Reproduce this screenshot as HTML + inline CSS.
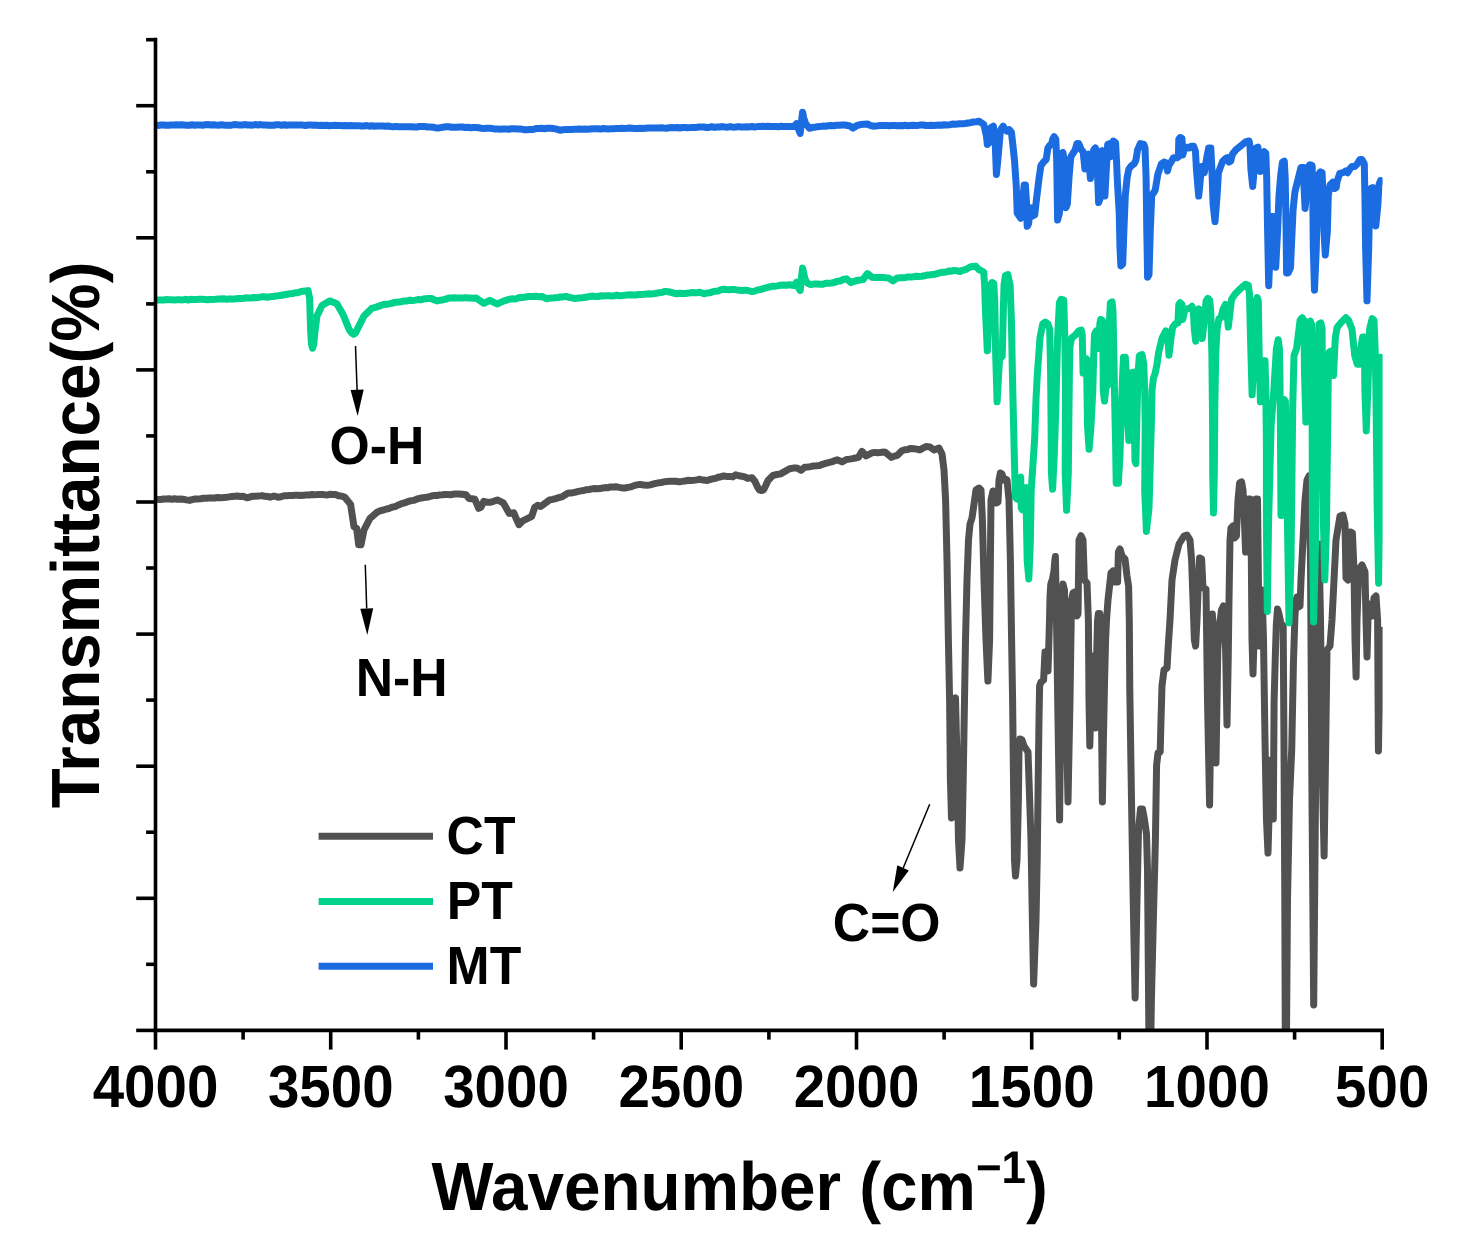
<!DOCTYPE html>
<html lang="en"><head><meta charset="utf-8"><title>FTIR</title>
<style>
html,body{margin:0;padding:0;background:#fff;}
svg{display:block;}
text{font-family:"Liberation Sans",sans-serif;font-weight:bold;fill:#000;text-rendering:geometricPrecision;}
</style></head>
<body>
<svg width="1470" height="1251" viewBox="0 0 1470 1251">
<rect x="0" y="0" width="1470" height="1251" fill="#ffffff"/>
<defs><clipPath id="plot"><rect x="155.5" y="30" width="1227.1" height="1000.4"/></clipPath><mask id="m" maskUnits="userSpaceOnUse" x="0" y="0" width="1470" height="1251"><rect x="0" y="0" width="1470" height="1251" fill="#fff"/></mask></defs>
<g clip-path="url(#plot)" fill="none" stroke-linejoin="round" stroke-linecap="round" stroke-width="7">
<path stroke="#515151" d="M155.5,499.2 L158.2,499.4 L160.9,499.5 L163.7,499.0 L166.4,499.0 L169.1,498.7 L171.8,499.3 L174.6,498.8 L177.3,499.3 L180.0,499.0 L183.2,499.3 L186.3,499.9 L189.5,500.4 L192.2,499.6 L195.0,499.0 L197.9,499.0 L200.7,498.8 L203.6,498.3 L206.4,498.2 L209.3,498.0 L212.1,498.0 L215.0,498.0 L217.8,497.4 L220.7,497.7 L223.5,497.6 L226.3,497.3 L229.2,496.9 L232.0,496.4 L234.8,496.2 L237.5,496.1 L240.2,496.4 L243.0,496.2 L247.0,497.8 L252.0,496.3 L255.3,496.2 L258.7,496.1 L262.0,495.6 L264.7,496.3 L267.3,496.4 L270.0,497.2 L274.0,496.0 L278.0,497.2 L281.0,496.8 L284.0,495.8 L286.8,495.7 L289.6,495.5 L292.4,495.5 L295.2,495.3 L298.0,495.2 L300.7,495.5 L303.5,495.2 L306.3,495.1 L309.1,495.1 L311.9,494.5 L314.7,494.7 L317.3,494.6 L319.9,494.4 L322.5,494.6 L325.1,494.8 L327.8,494.9 L330.4,494.2 L333.0,494.6 L335.6,494.5 L338.6,495.7 L341.6,496.1 L344.6,497.0 L350.6,504.4 L354.0,526.8 L356.6,528.3 L358.7,544.8 L361.0,544.8 L364.0,529.8 L370.0,518.4 L377.5,511.9 L380.5,510.7 L383.5,510.0 L386.5,509.0 L389.5,508.3 L392.5,507.1 L395.5,506.5 L398.5,504.9 L401.5,503.7 L404.5,502.9 L407.5,501.7 L410.5,500.8 L413.5,500.4 L416.5,499.2 L419.5,498.4 L422.5,497.8 L425.5,497.4 L428.4,497.0 L431.4,496.0 L434.4,495.4 L437.1,495.5 L439.7,494.9 L442.4,494.8 L445.1,494.5 L447.7,494.6 L450.4,494.7 L453.1,494.3 L455.7,493.9 L458.4,493.9 L462.2,494.2 L466.0,494.8 L468.9,498.4 L471.9,498.7 L474.9,499.3 L478.7,508.3 L480.8,507.4 L483.8,501.4 L486.8,502.2 L489.8,502.3 L493.6,501.3 L497.3,499.9 L503.3,502.9 L509.3,513.4 L513.8,512.8 L515.9,517.8 L518.9,524.7 L522.8,520.8 L531.7,516.3 L534.7,507.4 L537.7,505.3 L540.7,506.5 L549.7,499.9 L552.7,499.4 L555.7,498.6 L558.7,497.7 L561.7,496.9 L567.7,493.3 L570.4,492.9 L573.0,492.7 L575.7,492.1 L578.3,491.4 L581.0,490.9 L583.8,490.5 L586.5,489.7 L589.2,489.5 L592.0,488.9 L594.7,488.5 L597.3,488.7 L600.0,488.6 L602.7,488.0 L605.3,487.6 L608.0,487.8 L610.7,486.9 L613.3,486.9 L616.0,486.8 L619.0,487.4 L622.0,487.9 L625.0,488.0 L628.0,487.4 L631.0,486.9 L634.0,485.6 L637.0,484.9 L640.0,484.4 L643.7,485.0 L647.4,485.3 L650.2,484.9 L652.9,484.1 L655.7,483.4 L658.5,482.8 L661.3,482.5 L664.0,481.9 L666.8,481.4 L669.8,481.3 L672.8,481.3 L675.8,481.2 L678.8,481.7 L681.8,481.4 L684.8,481.0 L687.8,480.3 L690.8,480.6 L693.8,480.3 L696.8,479.9 L699.8,479.3 L703.5,480.1 L707.2,480.5 L710.0,479.5 L712.7,478.8 L715.5,478.4 L718.2,477.2 L721.0,476.7 L723.7,476.0 L726.7,476.4 L729.7,476.4 L732.7,476.9 L735.7,474.8 L738.7,475.8 L741.7,476.2 L744.7,476.9 L747.7,478.4 L752.0,477.8 L755.0,481.5 L757.5,487.0 L759.5,490.0 L761.5,490.6 L763.5,490.0 L765.5,486.0 L768.0,480.5 L773.0,475.4 L776.8,474.5 L780.6,473.9 L789.6,468.8 L793.3,468.1 L797.0,467.9 L801.0,470.3 L804.5,467.3 L807.5,467.0 L810.5,466.6 L813.5,465.9 L816.5,465.8 L819.5,465.5 L822.5,464.3 L825.5,463.4 L828.5,462.6 L831.5,461.9 L834.5,460.7 L837.5,459.8 L842.0,461.9 L846.5,459.5 L849.5,459.1 L852.5,458.6 L855.4,458.0 L858.4,457.4 L862.0,451.4 L866.0,455.9 L872.0,452.9 L874.7,452.4 L877.4,452.8 L880.0,452.5 L882.7,452.1 L885.4,452.3 L891.4,457.4 L894.4,456.1 L897.4,455.3 L901.9,450.8 L904.9,449.7 L907.8,449.4 L910.8,448.4 L913.8,448.7 L916.8,449.1 L919.8,449.9 L926.0,446.5 L930.0,447.0 L934.0,450.0 L939.0,448.0 L942.0,454.0 L944.0,470.0 L945.6,500.0 L947.0,560.0 L948.4,640.0 L949.6,700.0 L950.4,780.0 L951.5,818.0 L953.0,770.0 L954.5,700.0 L955.5,698.0 L957.0,760.0 L958.5,840.0 L960.0,868.0 L962.0,840.0 L963.2,780.0 L964.5,700.0 L965.5,640.0 L967.0,580.0 L968.5,540.0 L970.0,524.0 L972.0,518.0 L974.0,504.0 L976.0,490.0 L979.0,488.0 L981.0,490.0 L982.4,520.0 L984.0,580.0 L986.0,640.0 L987.9,681.0 L989.6,640.0 L990.4,560.0 L991.0,500.0 L993.0,491.0 L995.0,492.0 L996.0,503.0 L998.0,502.0 L999.0,480.0 L1000.4,473.0 L1002.0,474.0 L1003.6,480.0 L1005.0,479.0 L1007.0,480.0 L1009.0,500.0 L1010.4,560.0 L1011.6,640.0 L1012.6,700.0 L1013.5,780.0 L1014.5,860.0 L1015.5,876.0 L1017.0,860.0 L1018.4,800.0 L1019.0,750.0 L1020.0,739.0 L1022.0,740.0 L1024.0,746.0 L1026.0,749.0 L1028.0,752.0 L1029.0,780.0 L1031.0,840.0 L1032.0,900.0 L1033.6,984.0 L1036.0,920.0 L1037.2,860.0 L1038.2,780.0 L1039.0,720.0 L1039.6,686.0 L1041.0,682.0 L1043.6,680.0 L1045.0,652.0 L1046.4,654.0 L1048.0,671.0 L1048.8,645.0 L1049.5,620.0 L1050.0,597.0 L1050.8,584.0 L1052.6,578.5 L1054.0,571.0 L1054.8,561.0 L1055.4,556.5 L1056.5,620.0 L1058.0,720.0 L1059.6,820.0 L1060.8,700.0 L1062.0,620.0 L1063.0,584.0 L1064.5,590.0 L1066.0,700.0 L1068.0,802.0 L1070.0,700.0 L1071.5,600.0 L1073.0,593.0 L1075.0,592.0 L1077.0,616.0 L1078.0,614.0 L1079.0,540.0 L1081.0,535.6 L1083.0,540.0 L1084.4,580.0 L1087.0,583.0 L1088.4,620.0 L1089.0,700.0 L1089.8,746.0 L1091.0,700.0 L1092.2,666.0 L1093.0,656.0 L1094.0,668.0 L1094.8,705.0 L1095.3,728.0 L1095.9,700.0 L1096.8,650.0 L1097.5,621.0 L1098.4,613.5 L1099.7,613.5 L1100.7,621.0 L1101.3,700.0 L1102.4,802.0 L1103.4,740.0 L1104.6,680.0 L1105.6,640.0 L1106.5,620.0 L1108.0,600.0 L1111.0,573.0 L1113.0,571.0 L1115.0,582.0 L1117.6,582.0 L1118.4,552.0 L1120.0,549.0 L1122.0,556.0 L1125.0,559.0 L1127.0,576.0 L1128.6,586.0 L1129.3,620.0 L1129.8,690.0 L1131.5,800.0 L1133.2,900.0 L1135.1,998.0 L1137.0,900.0 L1138.5,830.0 L1140.5,809.0 L1142.5,809.0 L1144.5,820.0 L1146.5,834.0 L1147.5,870.0 L1148.6,1000.0 L1149.2,1075.0 L1150.2,1075.0 L1151.4,1000.0 L1153.6,910.0 L1155.4,840.0 L1156.6,765.0 L1158.0,753.0 L1160.2,752.0 L1161.0,720.0 L1162.0,686.0 L1164.0,670.0 L1167.0,668.0 L1168.0,650.0 L1170.0,620.0 L1172.0,580.0 L1175.0,560.0 L1179.0,544.0 L1184.0,536.0 L1187.0,535.0 L1190.0,540.0 L1191.6,560.0 L1193.0,600.0 L1194.4,640.0 L1195.6,646.0 L1197.0,620.0 L1198.4,580.0 L1199.6,558.0 L1201.6,559.0 L1203.0,588.0 L1206.0,589.0 L1207.5,700.0 L1209.6,805.0 L1211.0,700.0 L1212.3,614.0 L1214.0,640.0 L1215.2,700.0 L1216.0,763.0 L1217.0,700.0 L1217.8,650.0 L1219.5,625.0 L1221.5,610.0 L1223.4,606.0 L1224.8,612.0 L1225.8,660.0 L1227.0,725.0 L1228.2,660.0 L1229.0,600.0 L1230.0,540.0 L1231.0,528.0 L1233.0,526.0 L1234.4,538.0 L1236.4,536.0 L1238.0,500.0 L1239.6,483.0 L1241.6,482.0 L1243.0,490.0 L1244.4,520.0 L1245.6,552.0 L1247.0,552.0 L1247.6,520.0 L1248.4,499.0 L1250.0,499.0 L1251.0,520.0 L1252.0,640.0 L1253.0,674.0 L1254.0,640.0 L1255.0,540.0 L1256.0,499.0 L1257.5,499.0 L1258.2,560.0 L1259.1,646.0 L1260.5,600.0 L1262.0,590.0 L1263.5,640.0 L1265.0,740.0 L1266.5,820.0 L1268.0,853.0 L1269.5,800.0 L1271.0,760.0 L1272.3,790.0 L1273.3,819.0 L1273.7,760.0 L1274.1,702.0 L1275.2,660.0 L1276.3,625.0 L1277.5,609.0 L1279.0,614.0 L1280.8,623.0 L1283.2,626.0 L1284.0,750.0 L1284.8,900.0 L1285.4,1075.0 L1286.2,1075.0 L1287.5,900.0 L1289.5,800.0 L1291.7,750.0 L1293.5,660.0 L1295.0,615.0 L1296.0,600.0 L1297.0,597.0 L1298.4,607.0 L1300.0,606.0 L1301.0,580.0 L1303.0,540.0 L1305.0,500.0 L1307.0,480.0 L1309.0,476.0 L1310.5,560.0 L1312.0,800.0 L1313.7,1005.0 L1315.5,800.0 L1317.0,600.0 L1319.0,544.0 L1320.5,620.0 L1322.5,780.0 L1324.1,856.0 L1325.5,760.0 L1327.0,650.0 L1330.0,646.0 L1332.0,620.0 L1334.0,580.0 L1336.0,540.0 L1340.0,516.0 L1343.0,515.0 L1345.0,524.0 L1346.0,578.0 L1348.0,580.0 L1349.0,540.0 L1350.4,532.0 L1352.4,533.0 L1354.0,570.0 L1355.0,640.0 L1356.1,677.0 L1357.0,620.0 L1358.4,580.0 L1360.0,568.0 L1362.0,565.0 L1365.0,572.0 L1366.0,620.0 L1367.0,657.0 L1368.0,620.0 L1369.0,604.0 L1371.0,606.0 L1372.0,616.0 L1374.0,598.0 L1376.0,596.0 L1377.6,620.0 L1378.4,751.0 L1380.0,690.0 L1381.0,630.0"/>
<path stroke="#00d18b" d="M155.5,299.9 L158.2,299.9 L160.9,300.1 L163.7,300.1 L166.4,299.5 L169.1,299.7 L171.8,299.7 L174.6,299.9 L177.3,299.8 L180.0,299.8 L182.8,299.9 L185.5,299.3 L188.2,300.0 L190.9,299.3 L193.7,299.4 L196.4,299.6 L199.1,299.3 L201.8,299.3 L204.6,299.4 L207.3,299.8 L210.0,299.5 L212.7,299.4 L215.5,299.3 L218.2,299.1 L220.9,298.9 L223.6,298.8 L226.4,299.3 L229.1,299.0 L231.8,298.9 L234.5,299.0 L237.3,298.6 L240.0,298.5 L242.7,298.6 L245.5,297.8 L248.2,297.9 L250.9,298.1 L253.6,297.5 L256.4,297.8 L259.1,297.4 L261.8,296.8 L264.5,296.7 L267.3,297.2 L270.0,296.7 L272.9,296.6 L275.7,296.0 L278.6,295.7 L281.4,295.3 L284.3,294.7 L287.1,294.2 L290.0,293.8 L292.6,293.6 L295.2,292.7 L297.8,292.7 L300.4,291.7 L303.0,291.3 L308.0,290.6 L309.6,298.0 L310.6,330.0 L311.4,344.0 L312.6,348.2 L313.8,344.0 L314.9,332.0 L317.0,315.9 L322.0,305.4 L329.6,300.9 L333.3,302.2 L337.0,303.9 L343.0,314.4 L349.0,329.3 L351.6,333.0 L353.6,334.2 L355.6,333.0 L358.0,327.8 L364.0,315.9 L371.6,308.4 L374.6,307.7 L377.6,306.6 L380.5,305.6 L383.5,304.5 L386.1,304.2 L388.8,303.9 L391.4,303.4 L394.0,302.6 L396.6,302.3 L399.2,302.1 L401.9,301.5 L404.5,300.9 L407.2,300.9 L409.9,300.2 L412.6,300.5 L415.3,300.1 L417.9,299.6 L420.6,299.8 L423.3,299.1 L426.0,298.8 L428.7,298.6 L431.4,298.5 L434.4,300.0 L437.4,300.9 L440.4,300.2 L443.4,299.7 L446.4,299.0 L449.4,297.9 L452.1,298.1 L454.7,297.8 L457.4,298.0 L460.0,298.1 L462.7,298.1 L465.4,297.6 L468.0,298.0 L470.7,298.0 L473.3,298.3 L476.0,297.9 L483.8,303.3 L489.8,300.3 L497.0,303.9 L500.0,302.7 L503.0,301.3 L506.0,300.3 L509.0,299.4 L511.6,298.8 L514.2,299.0 L516.9,298.6 L519.5,297.6 L522.1,297.4 L524.8,297.3 L527.4,296.6 L530.0,296.4 L533.0,296.6 L536.0,296.3 L539.0,296.7 L542.0,296.4 L546.7,298.8 L549.5,298.2 L552.2,298.1 L555.0,297.7 L557.7,297.5 L560.5,297.0 L563.2,296.9 L566.0,296.4 L569.0,297.3 L572.0,297.9 L575.0,298.5 L578.0,298.1 L581.0,297.9 L584.0,297.5 L587.0,297.0 L590.0,296.4 L592.7,296.1 L595.4,296.5 L598.1,296.5 L600.8,295.8 L603.5,296.0 L606.2,295.8 L608.8,295.7 L611.5,296.0 L614.2,295.8 L616.9,295.3 L619.6,295.8 L622.3,295.6 L625.0,295.3 L627.7,294.9 L630.5,294.8 L633.2,295.1 L635.9,295.0 L638.6,294.5 L641.4,294.4 L644.1,294.3 L646.8,294.0 L649.5,293.7 L652.3,293.9 L655.0,293.5 L658.3,292.8 L661.7,292.5 L665.0,291.4 L668.0,291.8 L671.0,292.3 L674.0,293.2 L677.0,293.8 L679.9,293.3 L682.8,293.6 L685.6,293.4 L688.5,293.1 L691.4,292.6 L694.2,292.8 L697.1,292.7 L700.0,292.3 L704.0,293.8 L706.8,293.0 L709.6,292.8 L712.4,291.9 L715.3,291.2 L718.1,290.9 L720.9,289.8 L723.7,289.3 L726.4,289.6 L729.0,289.8 L731.7,289.6 L734.4,289.5 L737.0,289.9 L739.7,290.2 L742.4,290.5 L745.0,290.1 L747.7,290.5 L752.0,291.7 L754.8,291.1 L757.6,289.9 L760.4,289.6 L763.2,288.7 L766.0,287.9 L768.8,287.1 L771.6,286.3 L774.6,286.3 L777.6,285.9 L780.6,285.3 L783.6,285.0 L786.6,285.3 L789.6,284.8 L794.0,285.6 L796.6,282.2 L798.0,286.5 L799.2,289.0 L800.2,290.4 L801.4,278.0 L802.6,268.1 L803.8,274.0 L805.2,279.5 L807.5,283.3 L810.5,284.5 L813.7,284.1 L816.8,284.1 L820.0,284.3 L822.9,284.2 L825.8,283.2 L828.7,283.3 L831.6,283.0 L834.5,282.4 L837.2,281.4 L840.0,281.0 L843.2,279.5 L846.5,278.8 L851.0,282.6 L854.0,281.3 L857.0,280.5 L860.0,280.0 L863.0,279.6 L867.4,273.6 L872.0,277.3 L874.7,277.6 L877.5,277.4 L880.2,277.5 L882.9,277.6 L885.7,277.8 L888.4,277.9 L893.0,280.9 L897.4,277.9 L900.1,277.8 L902.8,277.7 L905.5,277.4 L908.2,276.9 L910.8,277.0 L913.5,276.8 L916.2,276.3 L918.9,276.4 L921.6,276.3 L924.3,275.8 L927.0,275.1 L929.8,274.9 L932.5,274.5 L935.2,274.2 L937.9,273.4 L940.7,272.6 L943.4,272.3 L946.1,272.0 L948.8,271.1 L951.6,271.2 L954.3,270.4 L957.1,270.8 L960.0,271.5 L962.6,270.3 L965.3,269.7 L970.6,266.7 L973.2,266.4 L975.8,266.2 L978.5,269.3 L983.7,272.0 L984.6,285.2 L985.5,311.6 L987.3,350.8 L989.0,320.3 L990.2,285.2 L992.0,282.5 L993.8,283.4 L994.8,302.8 L995.7,355.5 L997.1,401.8 L998.7,373.1 L999.6,359.0 L1002.2,356.4 L1003.1,320.3 L1004.0,285.2 L1005.4,275.5 L1007.8,274.6 L1010.1,285.2 L1011.4,320.3 L1012.4,373.1 L1013.6,425.9 L1014.5,464.0 L1015.4,497.4 L1017.2,499.1 L1018.4,478.0 L1020.7,477.2 L1021.2,507.9 L1022.4,509.7 L1023.7,488.6 L1025.9,487.7 L1026.5,525.5 L1027.2,560.7 L1028.8,578.9 L1030.3,543.1 L1031.2,490.3 L1033.0,464.0 L1034.7,437.6 L1036.0,399.5 L1037.4,373.1 L1040.0,337.9 L1042.7,323.9 L1045.3,322.1 L1047.9,323.9 L1049.7,329.1 L1050.6,373.1 L1051.1,425.9 L1051.4,472.8 L1052.6,489.2 L1054.3,455.2 L1055.8,408.3 L1057.6,337.9 L1059.4,302.8 L1061.1,299.2 L1063.8,300.1 L1064.8,337.9 L1065.5,390.7 L1065.2,472.8 L1066.6,510.3 L1068.3,472.8 L1069.0,408.3 L1069.4,373.1 L1069.9,346.7 L1071.7,337.9 L1075.2,335.3 L1078.7,330.9 L1081.3,330.0 L1082.2,334.4 L1082.7,355.5 L1083.1,373.1 L1084.5,371.3 L1085.6,359.9 L1086.6,359.0 L1087.0,390.7 L1087.5,425.9 L1089.1,449.3 L1091.0,425.9 L1092.8,390.7 L1093.7,355.5 L1094.5,334.4 L1096.3,330.9 L1097.5,334.4 L1098.9,348.5 L1099.8,323.9 L1100.7,319.5 L1102.4,320.3 L1103.0,355.5 L1103.3,390.7 L1104.5,401.0 L1106.0,387.2 L1107.7,385.4 L1108.6,355.5 L1109.5,320.3 L1110.4,302.8 L1112.1,301.9 L1113.0,311.6 L1113.9,355.5 L1114.8,408.3 L1115.6,443.4 L1116.2,483.3 L1118.3,483.3 L1120.0,455.2 L1121.4,408.3 L1122.7,373.1 L1123.5,357.3 L1125.3,357.3 L1126.2,373.1 L1127.1,408.3 L1128.8,440.5 L1130.2,408.3 L1130.9,373.1 L1133.2,372.2 L1134.1,408.3 L1135.0,461.0 L1135.9,463.7 L1136.7,425.9 L1138.0,373.1 L1139.4,355.5 L1142.0,354.6 L1143.8,364.3 L1144.7,390.7 L1145.2,425.9 L1144.7,490.3 L1146.4,531.4 L1149.0,507.9 L1150.5,455.2 L1151.3,425.9 L1152.0,390.7 L1153.4,378.4 L1155.2,373.1 L1157.0,364.3 L1158.7,352.0 L1162.2,337.9 L1165.8,330.9 L1167.5,332.7 L1169.0,355.2 L1171.0,337.9 L1172.6,327.4 L1175.3,323.9 L1177.9,323.0 L1178.8,304.5 L1180.2,302.8 L1182.0,304.5 L1182.7,319.5 L1184.9,309.8 L1187.6,308.9 L1190.2,308.0 L1192.0,306.3 L1193.2,309.8 L1194.3,329.1 L1195.7,341.2 L1197.8,316.8 L1199.0,308.9 L1200.2,320.3 L1202.2,338.5 L1204.3,320.3 L1206.1,301.0 L1207.8,298.4 L1209.6,300.1 L1210.8,311.6 L1211.9,355.5 L1212.6,425.9 L1212.7,472.8 L1213.5,512.9 L1214.3,472.8 L1214.8,408.3 L1215.7,355.5 L1217.1,329.1 L1218.9,318.6 L1221.0,317.7 L1222.8,309.8 L1225.4,304.5 L1226.6,308.0 L1228.3,327.1 L1230.1,311.6 L1231.6,299.2 L1235.1,294.0 L1240.3,288.7 L1245.6,284.3 L1248.3,285.2 L1249.5,294.0 L1250.5,337.9 L1252.1,394.8 L1254.1,355.5 L1255.3,302.8 L1257.1,297.5 L1258.3,301.0 L1259.2,355.5 L1260.4,401.8 L1261.8,373.1 L1262.9,360.8 L1265.0,360.8 L1265.8,390.7 L1266.4,443.4 L1266.4,525.5 L1267.3,611.4 L1268.5,525.5 L1271.1,425.9 L1273.8,390.7 L1276.4,348.5 L1278.2,339.7 L1279.4,348.5 L1279.9,373.1 L1280.4,425.9 L1281.0,515.6 L1282.5,443.4 L1284.0,399.5 L1285.4,401.2 L1286.1,443.4 L1287.5,525.5 L1289.0,622.8 L1291.0,560.7 L1292.7,408.3 L1294.0,355.5 L1296.6,348.5 L1300.1,320.3 L1302.2,317.7 L1304.0,320.3 L1304.5,373.1 L1305.9,422.1 L1307.7,373.1 L1308.6,322.1 L1310.3,321.2 L1311.6,323.9 L1312.1,408.3 L1312.4,525.5 L1313.6,622.0 L1315.6,543.1 L1317.7,355.5 L1319.1,323.9 L1320.9,323.0 L1322.1,329.1 L1322.6,408.3 L1323.5,525.5 L1324.8,579.8 L1326.5,525.5 L1328.3,373.1 L1329.2,352.0 L1330.9,351.1 L1333.5,375.5 L1335.3,337.9 L1337.1,327.4 L1341.5,322.1 L1345.9,317.7 L1348.5,320.3 L1352.0,329.1 L1354.7,355.5 L1357.3,364.3 L1359.6,364.3 L1360.8,348.5 L1362.6,337.1 L1364.3,337.1 L1364.9,390.7 L1366.3,430.9 L1368.4,373.1 L1369.6,329.1 L1372.2,318.6 L1374.0,320.3 L1375.4,355.5 L1376.1,408.3 L1377.2,507.9 L1378.6,583.3 L1380.2,507.9 L1381.0,357.3"/>
<path stroke="#1a6ce0" d="M155.5,125.0 L158.1,125.4 L160.7,125.1 L163.4,125.0 L166.0,125.3 L168.6,125.3 L171.2,125.1 L173.8,124.9 L176.4,124.8 L179.1,125.1 L181.7,124.8 L184.3,125.1 L186.9,125.3 L189.5,125.3 L192.1,124.8 L194.8,125.3 L197.4,124.9 L200.0,125.0 L202.6,125.2 L205.3,124.8 L207.9,124.6 L210.5,124.9 L213.2,124.8 L215.8,125.1 L218.4,125.2 L221.1,124.8 L223.7,125.1 L226.3,125.3 L228.9,125.2 L231.6,125.2 L234.2,124.6 L236.8,124.7 L239.5,125.1 L242.1,125.0 L244.7,124.6 L247.4,124.9 L250.0,124.9 L252.6,125.2 L255.3,124.6 L257.9,124.9 L260.5,124.6 L263.2,125.0 L265.8,124.9 L268.4,125.3 L271.1,125.2 L273.7,125.3 L276.3,124.8 L278.9,124.7 L281.6,125.3 L284.2,124.8 L286.8,125.3 L289.5,124.9 L292.1,125.0 L294.7,125.1 L297.4,125.0 L300.0,125.1 L302.7,125.1 L305.3,125.5 L308.0,125.0 L310.7,125.0 L313.3,125.3 L316.0,125.1 L318.7,125.5 L321.3,125.3 L324.0,125.6 L326.7,125.3 L329.3,125.8 L332.0,125.6 L334.7,125.2 L337.3,125.4 L340.0,125.6 L342.7,125.8 L345.3,125.6 L348.0,125.7 L350.7,125.5 L353.3,125.8 L356.0,125.8 L358.7,125.7 L361.3,126.0 L364.0,125.9 L366.7,125.6 L369.3,126.2 L372.0,125.8 L374.7,126.3 L377.3,126.0 L380.0,126.1 L382.6,125.9 L385.3,126.2 L387.9,125.9 L390.5,126.5 L393.2,126.7 L395.8,126.4 L398.4,126.8 L401.1,126.8 L403.7,126.7 L406.3,126.8 L408.9,126.7 L411.6,126.7 L414.2,127.0 L416.8,127.1 L419.5,126.4 L422.1,126.6 L424.7,126.6 L427.4,126.9 L430.0,127.0 L433.0,127.3 L436.0,127.9 L439.3,127.9 L442.7,127.3 L446.0,126.8 L448.8,126.8 L451.5,127.2 L454.2,127.3 L457.0,127.2 L459.8,127.0 L462.5,127.0 L465.2,127.5 L468.0,127.3 L470.7,127.8 L473.3,127.6 L476.0,127.5 L478.7,127.8 L481.3,128.2 L484.0,128.4 L486.7,128.2 L489.4,128.3 L492.1,128.4 L494.8,129.1 L497.5,128.9 L500.3,129.3 L503.1,129.0 L505.9,129.1 L508.6,129.2 L511.4,128.7 L514.2,128.8 L517.0,128.9 L520.3,128.9 L523.7,129.7 L527.0,129.8 L530.0,129.6 L533.0,129.5 L536.0,128.6 L539.0,128.4 L541.8,128.2 L544.6,128.7 L547.4,128.3 L550.2,128.3 L553.0,128.4 L556.5,129.1 L560.0,130.3 L562.9,129.7 L565.8,129.6 L568.6,129.6 L571.5,129.5 L574.1,129.3 L576.8,129.2 L579.4,129.1 L582.1,129.2 L584.7,129.1 L587.4,129.2 L590.0,128.9 L592.6,128.7 L595.3,128.7 L597.9,128.8 L600.5,129.1 L603.2,128.5 L605.8,128.7 L608.4,128.9 L611.1,128.7 L613.7,128.7 L616.3,128.6 L618.9,128.6 L621.6,128.2 L624.2,128.4 L626.8,128.3 L629.5,128.1 L632.1,128.2 L634.7,128.4 L637.4,128.4 L640.0,128.3 L642.7,128.5 L645.3,128.2 L648.0,127.9 L650.6,128.0 L653.3,128.1 L655.9,127.9 L658.6,128.0 L661.2,127.7 L663.9,128.0 L666.6,128.2 L669.2,127.7 L671.9,127.6 L674.5,127.8 L677.2,127.5 L679.8,128.0 L682.5,127.5 L685.1,127.5 L687.8,127.7 L690.4,127.6 L693.1,127.4 L695.8,127.5 L698.4,127.1 L701.1,126.9 L703.7,127.0 L706.4,127.5 L709.0,127.4 L711.7,126.7 L714.3,127.4 L717.0,127.0 L719.7,126.9 L722.4,126.6 L725.1,127.0 L727.8,127.2 L730.4,126.6 L733.1,127.2 L735.8,127.0 L738.5,126.6 L741.2,127.0 L743.9,127.1 L746.6,126.7 L749.2,126.9 L751.9,126.5 L754.6,127.0 L757.3,126.6 L760.0,126.6 L762.6,126.2 L765.3,126.5 L767.9,126.2 L770.5,126.5 L773.2,126.4 L775.8,126.5 L778.5,126.7 L781.1,126.3 L783.7,126.4 L786.4,126.4 L789.0,126.4 L794.0,126.6 L796.6,123.6 L798.0,127.5 L799.2,131.0 L800.2,133.4 L801.4,122.0 L802.6,112.3 L803.8,118.0 L805.5,123.5 L809.5,128.3 L812.0,127.6 L814.7,127.3 L817.3,126.7 L820.0,126.6 L822.8,126.1 L825.6,126.3 L828.3,125.8 L831.1,125.6 L833.9,125.8 L836.7,125.3 L839.4,125.2 L842.2,124.9 L845.0,125.0 L850.0,126.0 L853.0,128.2 L857.0,125.5 L860.5,124.6 L863.9,124.2 L867.4,124.0 L870.2,125.4 L873.0,126.2 L876.0,126.1 L879.0,125.6 L881.6,125.5 L884.2,125.6 L886.9,125.5 L889.5,125.8 L892.1,125.6 L894.8,125.6 L897.4,125.8 L900.0,125.6 L902.6,125.8 L905.2,125.3 L907.8,125.7 L910.4,125.5 L913.0,125.3 L915.6,125.4 L918.2,125.4 L920.8,124.9 L923.4,125.1 L926.0,125.4 L928.6,125.5 L931.2,125.3 L933.8,125.4 L936.4,125.2 L939.0,125.0 L941.7,125.2 L944.3,124.7 L947.0,124.9 L949.7,124.8 L952.3,124.0 L955.0,124.2 L960.0,123.8 L962.6,123.7 L965.3,123.5 L967.9,123.0 L970.6,122.7 L973.5,121.9 L976.4,121.8 L979.3,121.3 L983.7,124.3 L986.4,135.7 L987.3,144.5 L989.0,142.8 L990.8,127.8 L993.4,126.1 L995.2,142.8 L996.4,174.4 L997.8,160.3 L1000.4,130.4 L1003.1,126.1 L1005.7,130.4 L1007.5,131.3 L1009.2,129.6 L1011.4,132.2 L1012.8,144.5 L1014.5,160.3 L1016.3,186.7 L1017.2,213.1 L1020.7,218.4 L1022.4,202.5 L1024.2,185.0 L1025.4,185.0 L1026.5,202.5 L1027.2,226.3 L1028.6,223.7 L1030.3,207.8 L1031.2,216.6 L1034.7,214.9 L1036.5,199.0 L1039.1,177.9 L1040.9,165.6 L1043.5,162.1 L1046.2,159.5 L1047.9,148.0 L1049.7,145.4 L1051.4,144.5 L1052.7,139.2 L1054.1,136.6 L1055.8,139.2 L1056.7,160.3 L1057.6,220.1 L1059.4,213.1 L1060.6,177.9 L1061.6,153.3 L1062.9,152.4 L1064.1,160.3 L1065.2,195.5 L1065.9,207.8 L1067.3,204.3 L1069.0,177.9 L1070.8,156.8 L1072.5,154.2 L1075.2,149.8 L1076.9,143.6 L1078.7,143.6 L1081.3,149.8 L1083.1,151.6 L1084.9,168.9 L1087.0,155.1 L1088.4,154.2 L1090.4,178.5 L1092.2,163.9 L1093.7,149.8 L1095.4,148.0 L1096.8,151.6 L1097.7,177.9 L1098.6,202.5 L1099.8,199.0 L1100.7,151.6 L1102.1,150.7 L1103.3,177.9 L1104.9,196.1 L1106.8,160.3 L1107.7,144.5 L1109.5,143.6 L1110.4,156.8 L1111.2,146.3 L1113.3,141.0 L1115.6,142.8 L1116.5,160.3 L1117.4,181.4 L1119.2,213.1 L1120.0,248.3 L1120.9,265.9 L1122.7,264.1 L1123.9,230.7 L1125.3,195.5 L1127.1,177.9 L1128.8,169.1 L1131.5,165.6 L1134.1,163.9 L1135.9,160.3 L1137.6,149.8 L1140.3,143.6 L1143.8,144.5 L1145.0,148.0 L1146.1,177.9 L1146.8,230.7 L1147.6,277.3 L1149.0,274.7 L1150.3,230.7 L1151.7,195.5 L1155.2,190.2 L1157.8,174.4 L1161.4,163.9 L1164.0,162.1 L1166.6,163.0 L1167.5,170.9 L1169.3,163.9 L1170.0,163.9 L1173.5,157.7 L1177.0,157.7 L1178.4,156.8 L1178.8,139.2 L1180.2,137.5 L1182.0,138.4 L1182.7,155.1 L1184.9,147.2 L1187.6,147.2 L1189.3,148.0 L1191.1,146.3 L1193.7,146.3 L1195.5,151.6 L1196.4,169.1 L1198.7,196.1 L1200.8,174.4 L1201.7,166.5 L1204.3,172.7 L1205.2,167.4 L1206.9,156.8 L1208.7,148.0 L1210.8,148.0 L1211.9,169.1 L1213.1,204.3 L1215.0,221.6 L1217.1,195.5 L1218.4,172.7 L1221.0,165.6 L1222.8,161.2 L1225.4,158.6 L1227.2,157.7 L1228.9,162.1 L1230.7,161.2 L1232.4,154.2 L1235.9,149.8 L1240.3,146.3 L1245.6,141.9 L1249.1,141.0 L1250.0,146.3 L1250.9,169.1 L1252.7,186.4 L1254.8,163.9 L1256.2,148.0 L1257.9,147.2 L1258.8,160.3 L1260.4,171.5 L1262.3,153.3 L1264.1,151.6 L1265.8,153.3 L1266.7,177.9 L1267.6,230.7 L1268.7,285.8 L1270.2,248.3 L1271.1,216.6 L1272.9,216.6 L1274.1,248.3 L1275.7,267.3 L1277.6,230.7 L1279.0,195.5 L1280.8,174.4 L1282.5,162.1 L1284.3,161.2 L1285.2,177.9 L1286.1,230.7 L1286.6,272.9 L1288.2,272.9 L1290.5,267.6 L1291.3,248.3 L1293.1,209.6 L1294.9,192.0 L1298.4,177.9 L1301.0,167.4 L1303.7,167.4 L1304.0,186.7 L1305.1,208.4 L1307.2,186.7 L1308.0,167.4 L1309.8,164.7 L1312.1,165.6 L1312.8,195.5 L1313.3,248.3 L1314.5,290.2 L1316.3,248.3 L1317.4,195.5 L1318.6,174.4 L1320.4,171.8 L1322.1,172.7 L1323.0,195.5 L1323.9,230.7 L1325.3,255.0 L1327.4,230.7 L1328.3,195.5 L1330.0,185.0 L1332.7,182.3 L1334.4,188.5 L1336.2,187.6 L1337.1,181.4 L1339.7,173.5 L1343.2,172.7 L1345.9,170.9 L1347.6,172.7 L1350.3,168.3 L1352.0,166.5 L1354.7,166.5 L1357.3,163.9 L1359.9,159.5 L1362.0,159.5 L1364.3,163.9 L1364.9,195.5 L1365.6,248.3 L1367.0,300.8 L1368.7,248.3 L1369.6,204.3 L1370.8,188.5 L1372.6,187.6 L1374.0,204.3 L1375.8,226.0 L1377.9,204.3 L1378.9,185.0 L1380.5,180.6"/>
</g>
<g stroke="#000" stroke-width="3.6" fill="none" stroke-linecap="butt">
<path d="M155.5,37.7 V1032.2"/>
<path d="M153.7,1030.4 H1384.0"/>
<path d="M136.2,105.7 H155.5"/>
<path d="M136.2,237.8 H155.5"/>
<path d="M136.2,369.9 H155.5"/>
<path d="M136.2,502.0 H155.5"/>
<path d="M136.2,634.1 H155.5"/>
<path d="M136.2,766.2 H155.5"/>
<path d="M136.2,898.3 H155.5"/>
<path d="M136.2,1030.4 H155.5"/>
<path d="M146.1,39.7 H155.5"/>
<path d="M146.1,171.8 H155.5"/>
<path d="M146.1,303.9 H155.5"/>
<path d="M146.1,435.9 H155.5"/>
<path d="M146.1,568.0 H155.5"/>
<path d="M146.1,700.1 H155.5"/>
<path d="M146.1,832.2 H155.5"/>
<path d="M146.1,964.3 H155.5"/>
<path d="M155.5,1030.4 V1049.6"/>
<path d="M330.7,1030.4 V1049.6"/>
<path d="M506.0,1030.4 V1049.6"/>
<path d="M681.2,1030.4 V1049.6"/>
<path d="M856.5,1030.4 V1049.6"/>
<path d="M1031.7,1030.4 V1049.6"/>
<path d="M1207.0,1030.4 V1049.6"/>
<path d="M1382.2,1030.4 V1049.6"/>
<path d="M243.1,1030.4 V1039.6"/>
<path d="M418.4,1030.4 V1039.6"/>
<path d="M593.6,1030.4 V1039.6"/>
<path d="M768.9,1030.4 V1039.6"/>
<path d="M944.1,1030.4 V1039.6"/>
<path d="M1119.3,1030.4 V1039.6"/>
<path d="M1294.6,1030.4 V1039.6"/>
</g>
<text transform="translate(155.50,1107.00) scale(1,1.0580)" font-size="56.50" text-anchor="middle" id="tk4000">4000</text>
<text transform="translate(330.74,1107.00) scale(1,1.0580)" font-size="56.50" text-anchor="middle" id="tk3500">3500</text>
<text transform="translate(505.99,1107.00) scale(1,1.0580)" font-size="56.50" text-anchor="middle" id="tk3000">3000</text>
<text transform="translate(681.23,1107.00) scale(1,1.0580)" font-size="56.50" text-anchor="middle" id="tk2500">2500</text>
<text transform="translate(856.47,1107.00) scale(1,1.0580)" font-size="56.50" text-anchor="middle" id="tk2000">2000</text>
<text transform="translate(1031.71,1107.00) scale(1,1.0580)" font-size="56.50" text-anchor="middle" id="tk1500">1500</text>
<text transform="translate(1206.96,1107.00) scale(1,1.0580)" font-size="56.50" text-anchor="middle" id="tk1000">1000</text>
<text transform="translate(1382.20,1107.00) scale(1,1.0580)" font-size="56.50" text-anchor="middle" id="tk500">500</text>
<text transform="translate(431.60,1209.80) scale(1,1.0400)" font-size="65.60" text-anchor="start" id="xt">Wavenumber (cm</text>
<g mask="url(#m)"><text transform="translate(975.93,1182.76) scale(1,1.0400)" font-size="43.90" text-anchor="start" id="xs">−1</text></g>
<text transform="translate(1025.98,1209.80) scale(1,1.0400)" font-size="65.60" text-anchor="start" id="xp">)</text>
<text transform="translate(99.00,534.90) rotate(-90) scale(1,1.0400)" font-size="65.60" text-anchor="middle" id="yt">Transmittance(%)</text>
<text transform="translate(329.60,464.20) scale(1,1.0400)" font-size="51.70" text-anchor="start" id="oh">O-H</text>
<text transform="translate(355.70,696.30) scale(1,1.0400)" font-size="51.70" text-anchor="start" id="nh">N-H</text>
<text transform="translate(832.80,941.30) scale(1,1.0400)" font-size="51.70" text-anchor="start" id="co">C=O</text>
<text transform="translate(446.60,854.00) scale(1,1.0400)" font-size="51.70" text-anchor="start" id="ct">CT</text>
<text transform="translate(446.80,919.10) scale(1,1.0400)" font-size="51.70" text-anchor="start" id="pt">PT</text>
<text transform="translate(446.60,984.00) scale(1,1.0400)" font-size="51.70" text-anchor="start" id="mt">MT</text>
<g stroke-width="7" stroke-linecap="butt">
<path stroke="#515151" d="M318.6,836.3 H433"/>
<path stroke="#00d18b" d="M318.6,901.4 H433"/>
<path stroke="#1a6ce0" d="M318.6,966.3 H433"/>
</g>
<g stroke="#000" stroke-width="1.5" fill="#000">
<path d="M355.5,346 L357.1,390" fill="none"/>
<path d="M350.6,389.9 L363.7,389.5 L357.6,416 Z" stroke="none"/>
<path d="M365.3,564.7 L366.7,608.5" fill="none"/>
<path d="M360.3,608.8 L373.2,608.2 L367.3,635 Z" stroke="none"/>
<path d="M929.7,804.3 L903.2,868" fill="none"/>
<path d="M897.3,865.2 L908.8,870.5 L892.8,892 Z" stroke="none"/>
</g>
</svg>
</body></html>
